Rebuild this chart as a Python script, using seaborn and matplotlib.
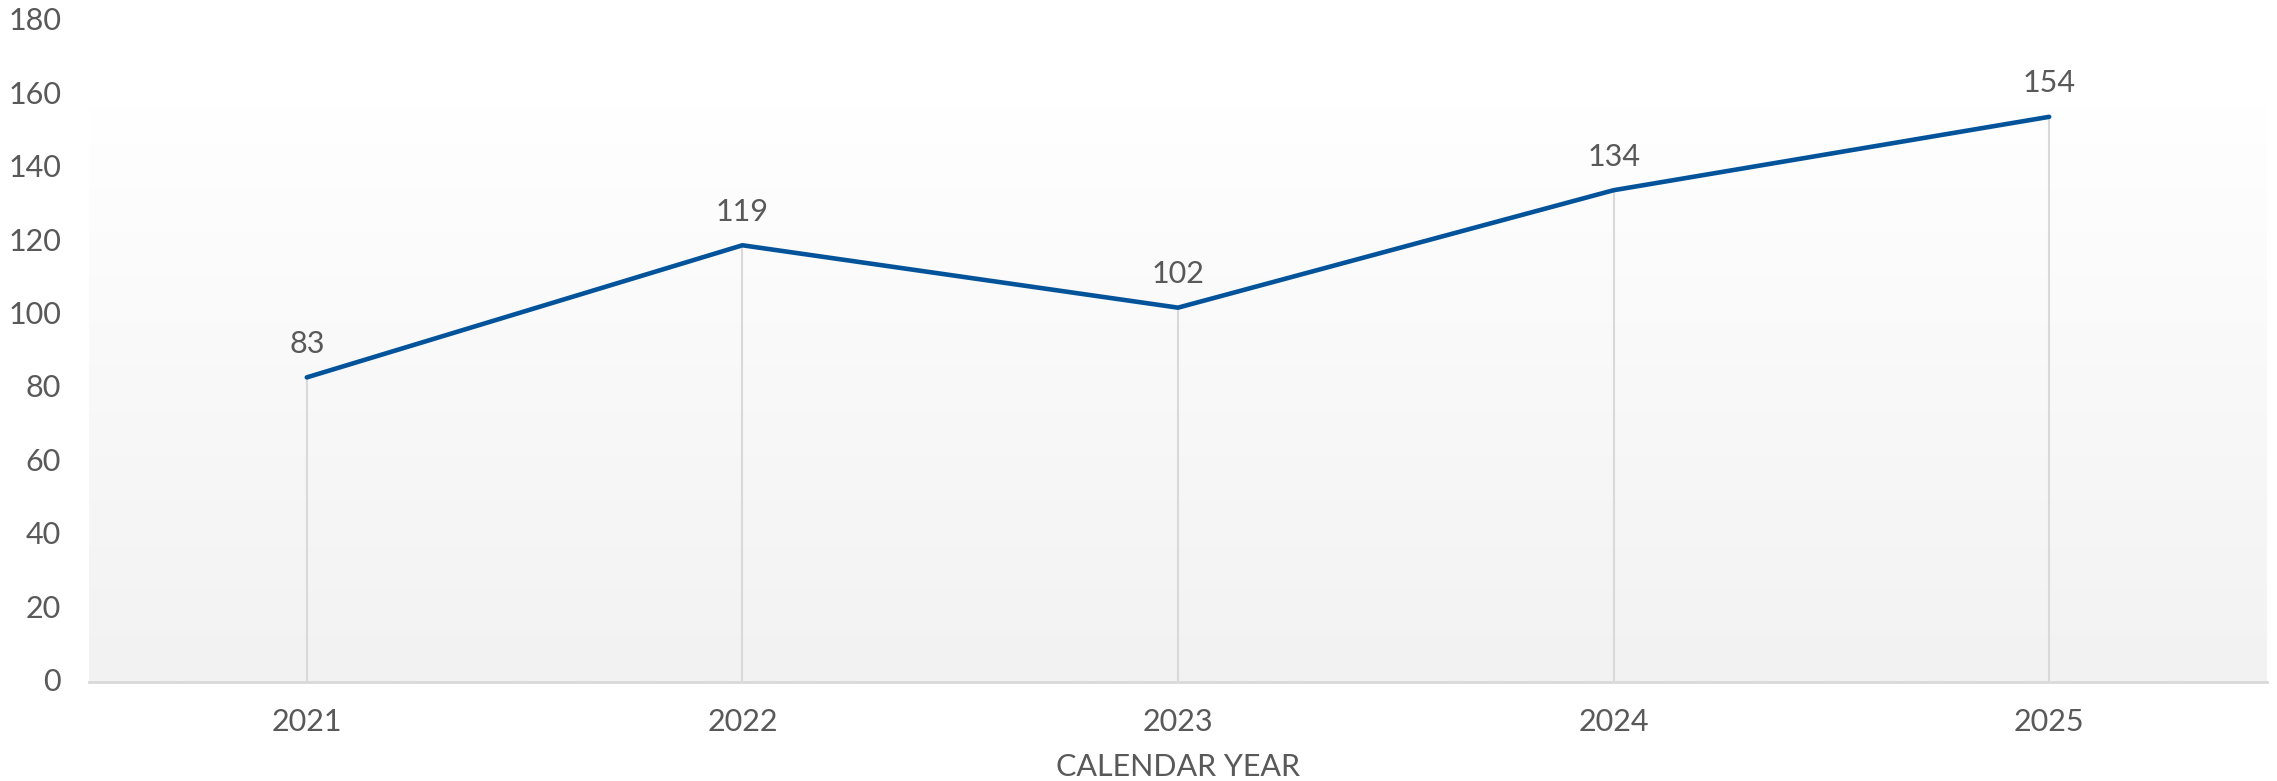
import numpy as np
import pandas as pd
import matplotlib
matplotlib.use("Agg")
import matplotlib.pyplot as plt
import seaborn as sns
from matplotlib.colors import LinearSegmentedColormap

years = ["2021", "2022", "2023", "2024", "2025"]
values = [83, 119, 102, 134, 154]
y_ticks = [0, 20, 40, 60, 80, 100, 120, 140, 160, 180]
x_label = "CALENDAR YEAR"

LINE_COLOR = "#03539B"
TEXT_COLOR = "#595959"
GRID_COLOR = "#D9D9D9"

sns.set_theme(style="white")
plt.rcParams["font.family"] = ["Lato", "DejaVu Sans"]

df = pd.DataFrame({"year": years, "value": values})

fig = plt.figure(figsize=(22.77, 7.81), dpi=100)
ax = fig.add_axes([89 / 2277, 1 - 682 / 781, (2267 - 89) / 2277, (682 - 21.4) / 781])

# gradient background of the plot area
cmap = LinearSegmentedColormap.from_list("bg", ["#F2F2F2", "#FFFFFF"])
grad = np.linspace(0, 1, 256).reshape(-1, 1)
ax.imshow(grad, extent=[-0.5, len(years) - 0.5, 0, 156.3], origin="lower",
          aspect="auto", cmap=cmap, vmin=0, vmax=1.02, zorder=0)

# drop lines
ax.vlines(range(len(years)), 0, values, color=GRID_COLOR, linewidth=1.5, zorder=1)

sns.lineplot(data=df, x="year", y="value", ax=ax, color=LINE_COLOR,
             linewidth=3.3, sort=False, zorder=3)
for line in ax.lines:
    line.set_solid_capstyle("round")
    line.set_solid_joinstyle("round")

for i, v in enumerate(values):
    ax.annotate(str(v), (i, v), xytext=(0, 14), textcoords="offset points",
                ha="center", va="bottom", fontsize=22, color=TEXT_COLOR)

ax.set_xlim(-0.5, len(years) - 0.5)
ax.set_ylim(0, 180)
ax.set_yticks(y_ticks)
ax.set_yticklabels([str(t) for t in y_ticks])
ax.set_xticks(range(len(years)))
ax.set_xticklabels(years)

ax.tick_params(axis="both", length=0, labelsize=22, labelcolor=TEXT_COLOR)
ax.tick_params(axis="y", pad=20)
ax.tick_params(axis="x", pad=19)
for lbl in ax.get_yticklabels():
    lbl.set_verticalalignment("center")

ax.set_xlabel(x_label, fontsize=22, color=TEXT_COLOR, labelpad=12)
ax.set_ylabel("")

for s in ["top", "right", "left"]:
    ax.spines[s].set_visible(False)
ax.spines["bottom"].set_color(GRID_COLOR)
ax.spines["bottom"].set_linewidth(2)
ax.spines["bottom"].set_zorder(2)
ax.set_facecolor("white")
ax.grid(False)

fig.savefig("out.png", dpi=100, facecolor="white")
